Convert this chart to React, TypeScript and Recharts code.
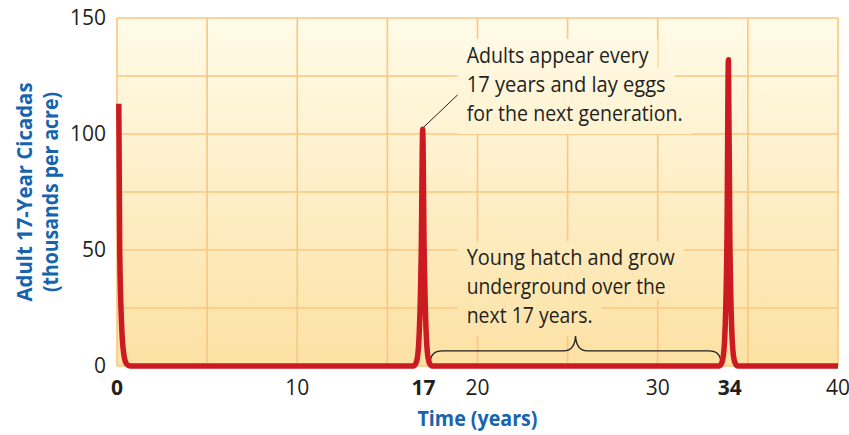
import { CartesianGrid, Line, LineChart, ReferenceArea, ReferenceDot, ReferenceLine, XAxis, YAxis } from 'recharts';

// years since first emergence, adult density (thousands per acre)
const years = [0.1, 0.15, 0.26, 0.38, 0.52, 0.72, 16.45, 16.62, 16.74, 16.88, 16.96, 17.04, 17.18, 17.3, 17.47, 33.41, 33.58, 33.7, 33.84, 33.92, 34.0, 34.14, 34.26, 34.43, 40];
const adults = [113, 50, 17, 5, 1, 0, 0, 2, 10, 50, 102, 50, 10, 2, 0, 0, 2, 10, 55, 132, 55, 10, 2, 0, 0];

const xTicks = [0, 10, 17, 20, 30, 34, 40];
const boldTicks = [0, 17, 34];
const yTicks = [0, 50, 100, 150];
const gridX = [0, 5, 10, 15, 20, 25, 30, 35, 40];
const gridY = [0, 25, 50, 75, 100, 125, 150];

const noteAdults = ['Adults appear every', '17 years and lay eggs', 'for the next generation.'];
const noteYoung = ['Young hatch and grow', 'underground over the', 'next 17 years.'];

const data = years.map((t, i) => ({ t, v: adults[i] }));

const INK = '#231f20';
const BLUE = '#1764ad';
const FONT = '"Open Sans", sans-serif';

function XTick({ x, y, payload }: any) {
  const bold = boldTicks.includes(payload.value);
  return (
    <text x={x} y={y + 29} textAnchor="middle" fontFamily={FONT} fontSize={21} fontWeight={bold ? 700 : 400} fill={INK}>
      {payload.value}
    </text>
  );
}

function YTitle({ viewBox }: any) {
  const cy = viewBox.y + viewBox.height / 2;
  const a = viewBox.x + 23;
  const b = viewBox.x + 49;
  return (
    <g fontFamily={FONT} fontWeight={700} fontSize={22} fill={BLUE}>
      <text x={a} y={cy} transform={`rotate(-90 ${a} ${cy})`} textAnchor="middle" dominantBaseline="central" textLength={219} lengthAdjust="spacingAndGlyphs">
        Adult 17-Year Cicadas
      </text>
      <text x={b} y={cy} transform={`rotate(-90 ${b} ${cy})`} textAnchor="middle" dominantBaseline="central" textLength={200} lengthAdjust="spacingAndGlyphs">
        (thousands per acre)
      </text>
    </g>
  );
}

function XTitle({ viewBox }: any) {
  const cx = viewBox.x + viewBox.width / 2;
  return (
    <text x={cx} y={426} textAnchor="middle" fontFamily={FONT} fontWeight={700} fontSize={22} fill={BLUE} textLength={120} lengthAdjust="spacingAndGlyphs">
      Time (years)
    </text>
  );
}

function Note({ cx, cy, lines, widths }: any) {
  return (
    <g>
      {lines.map((_: string, i: number) => (
        <rect key={'r' + i} x={cx - 9} y={cy + i * 29 - 24} width={widths[i] + 18} height={i === lines.length - 1 ? 37 : 29} fill="url(#plotBg)" />
      ))}
      {lines.map((s: string, i: number) => (
        <text key={'t' + i} x={cx} y={cy + i * 29} fontFamily={FONT} fontSize={22} fill={INK} textLength={widths[i]} lengthAdjust="spacingAndGlyphs">
          {s}
        </text>
      ))}
    </g>
  );
}

function Brace({ x, y, width, height }: any) {
  const bottom = y + height;
  const hy = y + height * 0.58;
  const mid = x + width / 2;
  const r = 12;
  const d = `M${x},${bottom} Q${x},${hy} ${x + r},${hy} L${mid - r},${hy} Q${mid},${hy} ${mid},${y} Q${mid},${hy} ${mid + r},${hy} L${x + width - r},${hy} Q${x + width},${hy} ${x + width},${bottom}`;
  return <path d={d} fill="none" stroke={INK} strokeWidth={1.3} />;
}

export default function App() {
  return (
    <div style={{ position: 'absolute', left: 0, top: 0, width: 849, height: 435, background: '#fff' }}>
      <LineChart width={849} height={435} data={data} margin={{ top: 18, right: 11, bottom: 0, left: 0 }}>
        <defs>
          <linearGradient id="plotBg" gradientUnits="userSpaceOnUse" x1="0" y1="18" x2="0" y2="366">
            <stop offset="0%" stopColor="#fffbe8" />
            <stop offset="100%" stopColor="#fde1a4" />
          </linearGradient>
        </defs>
        <CartesianGrid fill="url(#plotBg)" fillOpacity={1} stroke="#fbc67d" strokeWidth={1.6} verticalValues={gridX} horizontalValues={gridY} />
        <XAxis
          dataKey="t"
          type="number"
          domain={[0, 40]}
          ticks={xTicks}
          interval={0}
          axisLine={false}
          tickLine={false}
          tickSize={0}
          tickMargin={0}
          height={69}
          tick={<XTick />}
          label={{ content: <XTitle /> }}
        />
        <YAxis
          type="number"
          domain={[0, 150]}
          ticks={yTicks}
          interval={0}
          axisLine={false}
          tickLine={false}
          tickSize={0}
          tickMargin={11}
          width={117}
          tick={{ fontSize: 21, fill: INK, fontFamily: FONT }}
          label={{ content: <YTitle /> }}
        />
        <ReferenceDot x={19.4} y={130.6} r={0} shape={(p: any) => <Note cx={p.cx} cy={p.cy} lines={noteAdults} widths={[182, 199, 216]} />} />
        <ReferenceDot x={19.4} y={43.5} r={0} shape={(p: any) => <Note cx={p.cx} cy={p.cy} lines={noteYoung} widths={[208, 199, 126]} />} />
        <ReferenceLine segment={[{ x: 17.02, y: 103 }, { x: 19.12, y: 118.5 }]} stroke={INK} strokeWidth={1} />
        <ReferenceArea x1={17.38} x2={33.5} y1={1.3} y2={13.8} shape={<Brace />} />
        <Line dataKey="v" type="monotone" stroke="#cc1a22" strokeWidth={5.5} strokeLinejoin="round" dot={false} activeDot={false} isAnimationActive={false} />
      </LineChart>
    </div>
  );
}
